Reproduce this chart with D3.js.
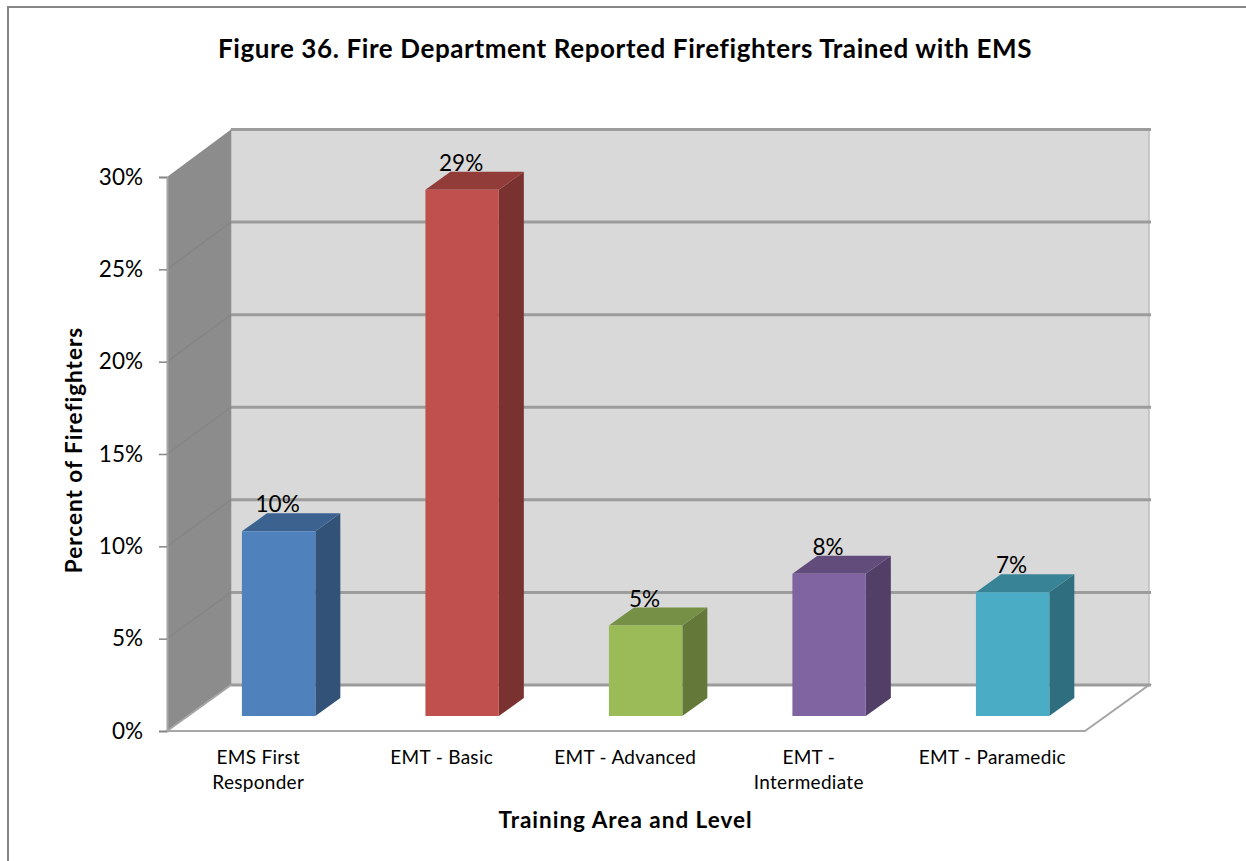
<!DOCTYPE html>
<html>
<head>
<meta charset="utf-8">
<script src="https://cdn.jsdelivr.net/npm/d3@7"></script>
<style>
  html, body { margin: 0; padding: 0; background: #fff; }
  svg { display: block; }
  text { font-family: Lato, "Open Sans", sans-serif; fill: #000; }
</style>
</head>
<body>
<div id="chart"></div>
<script>
// Values
var categories = ["EMS First Responder", "EMT - Basic", "EMT - Advanced", "EMT - Intermediate", "EMT - Paramedic"];
var categoryLines = [["EMS First", "Responder"], ["EMT - Basic"], ["EMT - Advanced"], ["EMT -", "Intermediate"], ["EMT - Paramedic"]];
var values = [10, 28.5, 4.9, 7.7, 6.7];
var valueLabels = ["10%", "29%", "5%", "8%", "7%"];
var barColors = ["#4f81bd", "#c0504d", "#9bbb59", "#8064a2", "#4bacc6"];
var topColors = ["#3c6290", "#923c3a", "#769045", "#614c7b", "#398397"];
var sideColors = ["#325278", "#7a3230", "#637839", "#513f67", "#2f6e7e"];
var yTicks = [0, 5, 10, 15, 20, 25, 30];

var svgWidth = 1246;
var svgHeight = 861;

// Front plane of the 3D box, and how far the depth axis shifts things
var plot = { left: 167, right: 1085, top: 177, bottom: 731 };
var depth = { x: 64, y: -46 };

var svg = d3.select("#chart")
  .append("svg")
  .attr("width", svgWidth)
  .attr("height", svgHeight);

var xScale = d3.scaleBand()
  .domain(categories)
  .range([166, 1083.5])
  .paddingInner(0.6)
  .paddingOuter(0.3);

var yScale = d3.scaleLinear()
  .domain([0, 30])
  .range([plot.bottom, plot.top]);

// the back wall is a touch taller than the front plane
var yBack = d3.scaleLinear()
  .domain([0, 30])
  .range([plot.bottom + depth.y, 129.5]);

// x, y on the front plane, z from 0 (front) to 1 (back wall)
function project(x, y, z) {
  return [x + z * depth.x, y + z * depth.y];
}

function poly(points) {
  return "M" + points.map(function (p) { return p.join(","); }).join("L") + "Z";
}

// Chart area border, only left and top are in the frame
svg.append("path")
  .attr("d", "M8,861V7H1246")
  .attr("fill", "none")
  .attr("stroke", "#868686")
  .attr("stroke-width", 2);

var backLeft = plot.left + depth.x;
var backRight = plot.right + depth.x;

// Back wall
svg.append("rect")
  .attr("x", backLeft)
  .attr("y", yBack(30))
  .attr("width", backRight - backLeft)
  .attr("height", yBack(0) - yBack(30))
  .attr("fill", "#d9d9d9")
  .attr("stroke", "#bdbdbd")
  .attr("stroke-width", 1.5);

// Side wall
svg.append("path")
  .attr("d", poly([
    [plot.left, plot.top],
    [backLeft, yBack(30)],
    [backLeft, yBack(0)],
    [plot.left, plot.bottom]
  ]))
  .attr("fill", "#8c8c8c");

// Floor
svg.append("path")
  .attr("d", poly([
    [plot.left, plot.bottom],
    [backLeft, yBack(0)],
    [backRight, yBack(0)],
    [plot.right, plot.bottom]
  ]))
  .attr("fill", "#fff")
  .attr("stroke", "#a6a6a6")
  .attr("stroke-width", 2);

// Gridlines: across the back wall, and fainter down the side wall
var grid = svg.append("g");
grid.selectAll("line.wall")
  .data(yTicks)
  .enter()
  .append("line")
  .attr("class", "wall")
  .attr("x1", backLeft)
  .attr("x2", backRight + 2)
  .attr("y1", function (d) { return yBack(d); })
  .attr("y2", function (d) { return yBack(d); })
  .attr("stroke", "#9c9c9c")
  .attr("stroke-width", 3);
grid.selectAll("line.side")
  .data(yTicks.slice(1, -1))
  .enter()
  .append("line")
  .attr("class", "side")
  .attr("x1", plot.left)
  .attr("x2", backLeft)
  .attr("y1", function (d) { return yScale(d); })
  .attr("y2", function (d) { return yBack(d); })
  .attr("stroke", "#858585")
  .attr("stroke-width", 1.5);

// Axes
var leftAxis = d3.axisLeft(yScale)
  .tickValues(yTicks)
  .tickFormat(function (d) { return d + "%"; })
  .tickSize(8)
  .tickPadding(16);

var yAxisGroup = svg.append("g")
  .attr("transform", "translate(" + plot.left + ",0)")
  .call(leftAxis);
yAxisGroup.select(".domain").attr("stroke", "#a6a6a6").attr("stroke-width", 2);
yAxisGroup.selectAll(".tick line").attr("stroke", "#868686").attr("stroke-width", 1.5);
yAxisGroup.selectAll(".tick text")
  .style("font-family", "Lato, sans-serif")
  .style("font-size", "22.5px")
  .attr("fill", "#000");

// Bars, they do not overlap so data order is fine
var barZ = [0.326, 0.717];
var bars = svg.selectAll("g.bar")
  .data(categories)
  .enter()
  .append("g")
  .attr("class", "bar");

bars.append("path")
  .attr("fill", function (d, i) { return sideColors[i]; })
  .attr("d", function (d, i) {
    var x = xScale(d) + xScale.bandwidth();
    return poly([
      project(x, yScale(values[i]), barZ[0]),
      project(x, yScale(values[i]), barZ[1]),
      project(x, yScale(0), barZ[1]),
      project(x, yScale(0), barZ[0])
    ]);
  });

bars.append("path")
  .attr("fill", function (d, i) { return topColors[i]; })
  .attr("d", function (d, i) {
    var x0 = xScale(d);
    var x1 = x0 + xScale.bandwidth();
    var y = yScale(values[i]);
    return poly([
      project(x0, y, barZ[0]),
      project(x0, y, barZ[1]),
      project(x1, y, barZ[1]),
      project(x1, y, barZ[0])
    ]);
  });

bars.append("path")
  .attr("fill", function (d, i) { return barColors[i]; })
  .attr("d", function (d, i) {
    var x0 = xScale(d);
    var x1 = x0 + xScale.bandwidth();
    return poly([
      project(x0, yScale(values[i]), barZ[0]),
      project(x1, yScale(values[i]), barZ[0]),
      project(x1, yScale(0), barZ[0]),
      project(x0, yScale(0), barZ[0])
    ]);
  });

// Value labels sit just above the top face
bars.append("text")
  .attr("x", function (d) { return project(xScale(d) + xScale.bandwidth() / 2, 0, barZ[0])[0] - 1; })
  .attr("y", function (d, i) { return project(0, yScale(values[i]), barZ[1])[1] - 1; })
  .attr("text-anchor", "middle")
  .style("font-size", "22.5px")
  .text(function (d, i) { return valueLabels[i]; });

// Category labels, one text per line
var catLabels = svg.selectAll("text.cat")
  .data(categories)
  .enter()
  .append("text")
  .attr("class", "cat")
  .attr("text-anchor", "middle")
  .style("font-size", "19px")
  .style("letter-spacing", "0.3px");

catLabels.selectAll("tspan")
  .data(function (d, i) {
    return categoryLines[i].map(function (line) { return { line: line, cat: d }; });
  })
  .enter()
  .append("tspan")
  .attr("x", function (d) { return xScale(d.cat) + xScale.bandwidth() / 2 + 0.5; })
  .attr("y", function (d, i) { return 764 + i * 25; })
  .text(function (d) { return d.line; });

// Titles
svg.append("text")
  .attr("x", 625)
  .attr("y", 58)
  .attr("text-anchor", "middle")
  .style("font-size", "26px")
  .style("font-weight", "bold")
  .style("letter-spacing", "0.6px")
  .text("Figure 36. Fire Department Reported Firefighters Trained with EMS");

svg.append("text")
  .attr("x", 625.5)
  .attr("y", 828)
  .attr("text-anchor", "middle")
  .style("font-size", "22.5px")
  .style("font-weight", "bold")
  .style("letter-spacing", "1px")
  .text("Training Area and Level");

svg.append("text")
  .attr("transform", "translate(82,450) rotate(-90)")
  .attr("text-anchor", "middle")
  .style("font-size", "22.5px")
  .style("font-weight", "bold")
  .style("letter-spacing", "1px")
  .text("Percent of Firefighters");
</script>
</body>
</html>
